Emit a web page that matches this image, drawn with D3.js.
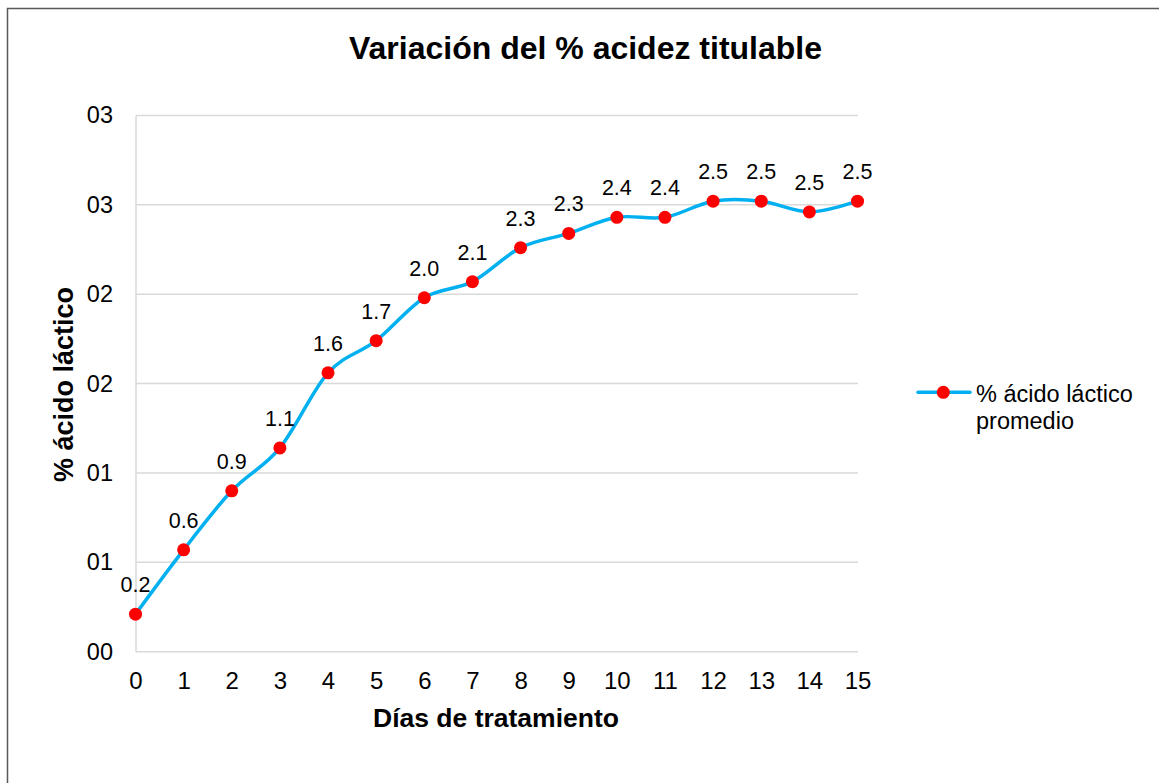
<!DOCTYPE html>
<html>
<head>
<meta charset="utf-8">
<script src="https://cdn.jsdelivr.net/npm/d3@7"></script>
<style>
  html, body { margin: 0; padding: 0; background: #fff; }
  svg { display: block; font-family: "Liberation Sans", Arial, sans-serif; }
</style>
</head>
<body>
<svg id="chart" width="1159" height="783"></svg>
<script>
const days = [0,1,2,3,4,5,6,7,8,9,10,11,12,13,14,15];
const acidValues = [0.21,0.57,0.90,1.14,1.56,1.74,1.98,2.07,2.26,2.34,2.43,2.43,2.52,2.52,2.46,2.52];
const dataLabels = ["0.2","0.6","0.9","1.1","1.6","1.7","2.0","2.1","2.3","2.3","2.4","2.4","2.5","2.5","2.5","2.5"];
const yTickValues = [0,0.5,1,1.5,2,2.5,3];
const yTickLabels = ["00","01","01","02","02","03","03"];
const seriesName = ["% ácido láctico", "promedio"];
const titleText = "Variación del % acidez titulable";
const xTitle = "Días de tratamiento";
const yTitle = "% ácido láctico";

const svg = d3.select("#chart");

// outer frame
svg.append("path")
  .attr("d", "M7.5,783 L7.5,8.5 L1159,8.5")
  .attr("fill", "none").attr("stroke", "#595959").attr("stroke-width", 1.5);

const x = d3.scaleLinear().domain([0, 15]).range([135.5, 857.5]);
const y = d3.scaleLinear().domain([0, 3]).range([651.7, 115.4]);

// gridlines
svg.append("g").selectAll("line").data(yTickValues).join("line")
  .attr("x1", 136).attr("x2", 858)
  .attr("y1", d => y(d)).attr("y2", d => y(d))
  .attr("stroke", "#d9d9d9").attr("stroke-width", 1.5);

// vertical axis line
svg.append("line")
  .attr("x1", 136).attr("x2", 136).attr("y1", y(3)).attr("y2", y(0))
  .attr("stroke", "#d9d9d9").attr("stroke-width", 1.5);

// y axis
const yAxis = d3.axisLeft(y).tickValues(yTickValues)
  .tickFormat((d, i) => yTickLabels[i]).tickSize(0).tickPadding(23);
const gy = svg.append("g").attr("transform", "translate(136,0)").call(yAxis);
gy.select(".domain").remove();
gy.selectAll("text").attr("font-size", 23.5).attr("fill", "#000")
  .style("font-family", '"Liberation Sans", Arial, sans-serif');

// x axis
const xAxis = d3.axisBottom(x).tickValues(days).tickFormat(d => String(d))
  .tickSize(0).tickPadding(20);
const gx = svg.append("g").attr("transform", `translate(0,${y(0)})`).call(xAxis);
gx.select(".domain").remove();
gx.selectAll("text").attr("font-size", 24).attr("fill", "#000")
  .style("font-family", '"Liberation Sans", Arial, sans-serif');

// line
const line = d3.line()
  .x((d, i) => x(days[i]))
  .y(d => y(d))
  .curve(d3.curveCatmullRom.alpha(0));
svg.append("path").datum(acidValues)
  .attr("d", line).attr("fill", "none")
  .attr("stroke", "#00b0f0").attr("stroke-width", 3.5)
  .attr("stroke-linejoin", "round").attr("stroke-linecap", "round");

// markers
svg.append("g").selectAll("circle").data(acidValues).join("circle")
  .attr("cx", (d, i) => x(days[i])).attr("cy", d => y(d)).attr("r", 6.5)
  .attr("fill", "#ff0000");

// data labels
svg.append("g").selectAll("text").data(acidValues).join("text")
  .attr("x", (d, i) => x(days[i])).attr("y", d => y(d) - 22)
  .attr("text-anchor", "middle").attr("font-size", 21.5).attr("fill", "#000")
  .text((d, i) => dataLabels[i]);

// title
svg.append("text").attr("x", 585.5).attr("y", 58.5)
  .attr("text-anchor", "middle").attr("font-size", 32).attr("font-weight", "bold")
  .text(titleText);

// x title
svg.append("text").attr("x", 496).attr("y", 727)
  .attr("text-anchor", "middle").attr("font-size", 26.5).attr("font-weight", "bold")
  .text(xTitle);

// y title
svg.append("text").attr("transform", "translate(73,384.5) rotate(-90)")
  .attr("text-anchor", "middle").attr("font-size", 27).attr("font-weight", "bold")
  .text(yTitle);

// legend
const lg = svg.append("g");
lg.append("line").attr("x1", 918).attr("x2", 970).attr("y1", 392.3).attr("y2", 392.3)
  .attr("stroke", "#00b0f0").attr("stroke-width", 3.5).attr("stroke-linecap", "round");
lg.append("circle").attr("cx", 943.3).attr("cy", 392.3).attr("r", 6.5).attr("fill", "#ff0000");
lg.selectAll("text.leg").data(seriesName).join("text").attr("class", "leg")
  .attr("x", 976).attr("y", (d, i) => 401.5 + i * 27)
  .attr("font-size", 23.5).attr("fill", "#000").text(d => d);
</script>
</body>
</html>
